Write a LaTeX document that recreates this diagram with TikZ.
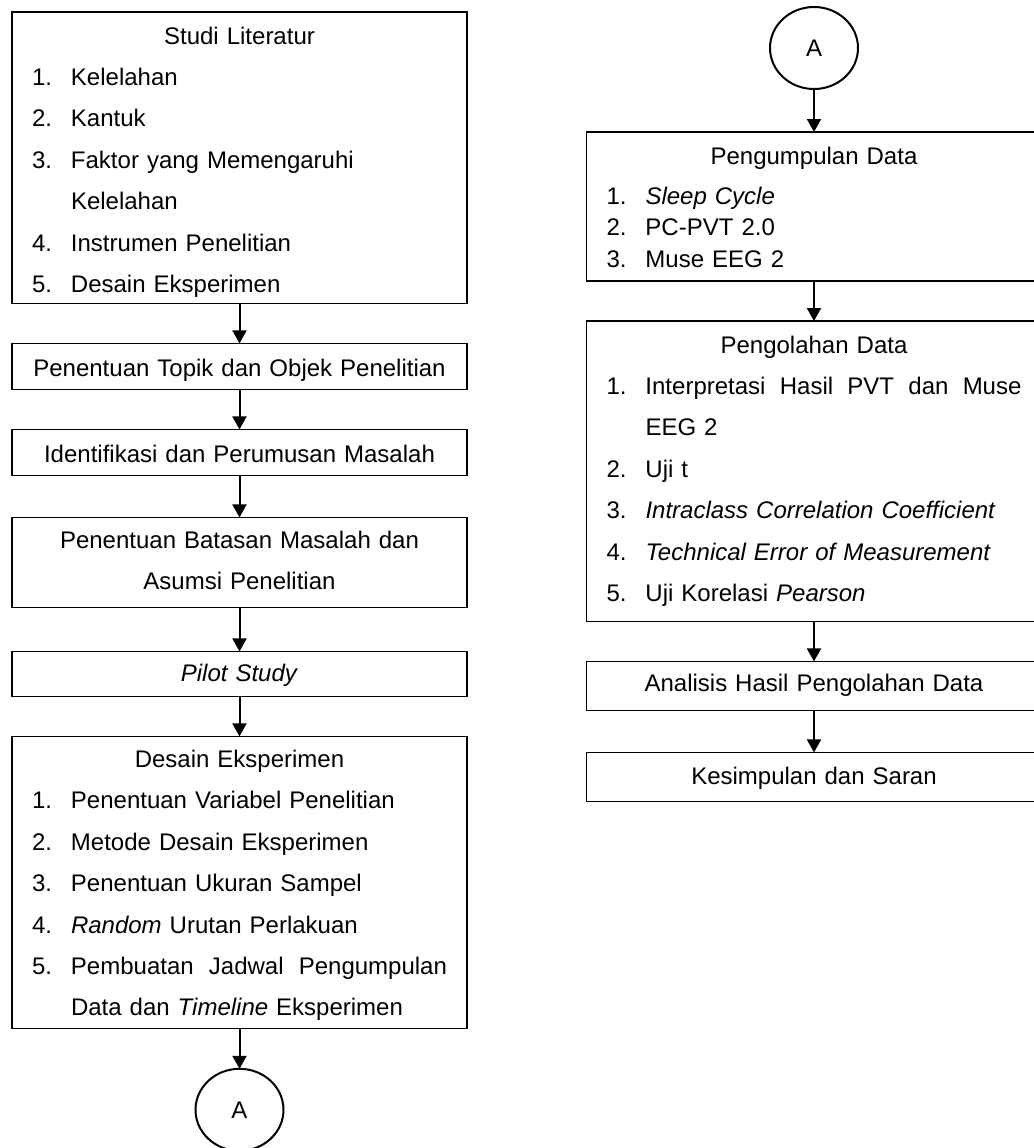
\documentclass[tikz,border=0pt]{standalone}
\usepackage{fontspec}
\setmainfont{Liberation Sans}
\usetikzlibrary{positioning, arrows.meta, shapes.geometric}

% line heights inside the boxes
\newcommand\boxfont{\fontsize{12pt}{0pt}\selectfont\lineskip=0pt\lineskiplimit=0pt}
\newcommand\lnstrut[2]{\rule[-#2]{0pt}{\dimexpr#1+#2\relax}}
\newcommand\sA{\lnstrut{16pt}{4.7pt}}
\newcommand\itemno[1]{\hspace*{10pt}\makebox[19.5pt][l]{#1}}
\newcommand\cont{\hspace*{29.5pt}}
\newcommand\headline[2]{\makebox[\linewidth]{#1#2}}
\newcommand\fullline[1]{\makebox[\linewidth][s]{\spaceskip=0pt\xspaceskip=0pt#1\hspace*{10pt}}}

\begin{document}
\begin{tikzpicture}[
    x=0.5pt, y=-0.5pt,
    % Style for the process boxes
    stepbox/.style={
        draw,
        line width=0.6pt,
        inner sep=0pt,
        outer sep=0pt,
        text width=227.5pt,
        align=left,
        font=\boxfont
    },
    % Style for the off-page connectors
    offpage/.style={
        ellipse,
        draw,
        line width=1pt,
        minimum width=44pt,
        minimum height=41pt,
        inner sep=0pt,
        outer sep=0pt,
        font=\fontsize{12pt}{14pt}\selectfont
    },
    flow/.style={
        draw,
        line width=1pt,
        -{Triangle[length=6.5pt,width=7pt]}
    }
]

    \useasboundingbox (0,0) rectangle (1034,1148);
    \clip (0,0) rectangle (1034,1148);

    % --- Left column ---
    \node[stepbox, anchor=north west] (studi) at (12,12) {%
        \headline{\sA}{Studi Literatur}\\
        \sA\itemno{1.}Kelelahan\\
        \sA\itemno{2.}Kantuk\\
        \sA\itemno{3.}Faktor yang Memengaruhi\\
        \sA\cont Kelelahan\\
        \sA\itemno{4.}Instrumen Penelitian\\
        \lnstrut{16pt}{5.5pt}\itemno{5.}Desain Eksperimen};

    \node[stepbox, below=20pt of studi] (topik) {%
        \headline{\lnstrut{16.5pt}{6.5pt}}{Penentuan Topik dan Objek Penelitian}};

    \node[stepbox, below=20pt of topik] (masalah) {%
        \headline{\lnstrut{16.5pt}{6.5pt}}{Identifikasi dan Perumusan Masalah}};

    \node[stepbox, below=21pt of masalah] (batasan) {%
        \headline{\lnstrut{15.5pt}{4.7pt}}{Penentuan Batasan Masalah dan}\\
        \headline{\lnstrut{15.8pt}{9pt}}{Asumsi Penelitian}};

    \node[stepbox, below=22pt of batasan] (pilot) {%
        \headline{\lnstrut{15pt}{7.5pt}}{\textit{Pilot Study}}};

    \node[stepbox, below=20pt of pilot] (desain) {%
        \headline{\lnstrut{15.5pt}{4.7pt}}{Desain Eksperimen}\\
        \sA\itemno{1.}Penentuan Variabel Penelitian\\
        \sA\itemno{2.}Metode Desain Eksperimen\\
        \sA\itemno{3.}Penentuan Ukuran Sampel\\
        \sA\itemno{4.}\textit{Random} Urutan Perlakuan\\
        \fullline{\sA\itemno{5.}Pembuatan Jadwal Pengumpulan}\\
        \lnstrut{16pt}{6.5pt}\cont Data dan \textit{Timeline} Eksperimen};

    \node[offpage, below=20pt of desain] (outA) {A};

    % --- Right column ---
    \node[offpage] (inA) at (814,48) {A};

    \node[stepbox, below=21.5pt of inA] (kumpul) {%
        \headline{\sA}{Pengumpulan Data}\\
        \lnstrut{15.3pt}{4.75pt}\itemno{1.}\textit{Sleep Cycle}\\
        \lnstrut{11pt}{4.75pt}\itemno{2.}PC-PVT 2.0\\
        \lnstrut{11pt}{7pt}\itemno{3.}Muse EEG 2};

    \node[stepbox, below=20pt of kumpul] (olah) {%
        \headline{\sA}{Pengolahan Data}\\
        \fullline{\sA\itemno{1.}Interpretasi Hasil PVT dan Muse}\\
        \sA\cont EEG 2\\
        \sA\itemno{2.}Uji t\\
        \sA\itemno{3.}\textit{Intraclass Correlation Coefficient}\\
        \sA\itemno{4.}\textit{Technical Error of Measurement}\\
        \lnstrut{16pt}{10pt}\itemno{5.}Uji Korelasi \textit{Pearson}};

    \node[stepbox, below=20pt of olah] (analisis) {%
        \headline{\lnstrut{15pt}{9.5pt}}{Analisis Hasil Pengolahan Data}};

    \node[stepbox, below=21pt of analisis] (simpul) {%
        \headline{\lnstrut{16pt}{8.5pt}}{Kesimpulan dan Saran}};

    % --- Connectors ---
    \draw[flow] (studi) -- (topik);
    \draw[flow] (topik) -- (masalah);
    \draw[flow] (masalah) -- (batasan);
    \draw[flow] (batasan) -- (pilot);
    \draw[flow] (pilot) -- (desain);
    \draw[flow] (desain) -- (outA);

    \draw[flow] (inA) -- (kumpul);
    \draw[flow] (kumpul) -- (olah);
    \draw[flow] (olah) -- (analisis);
    \draw[flow] (analisis) -- (simpul);

\end{tikzpicture}
\end{document}
